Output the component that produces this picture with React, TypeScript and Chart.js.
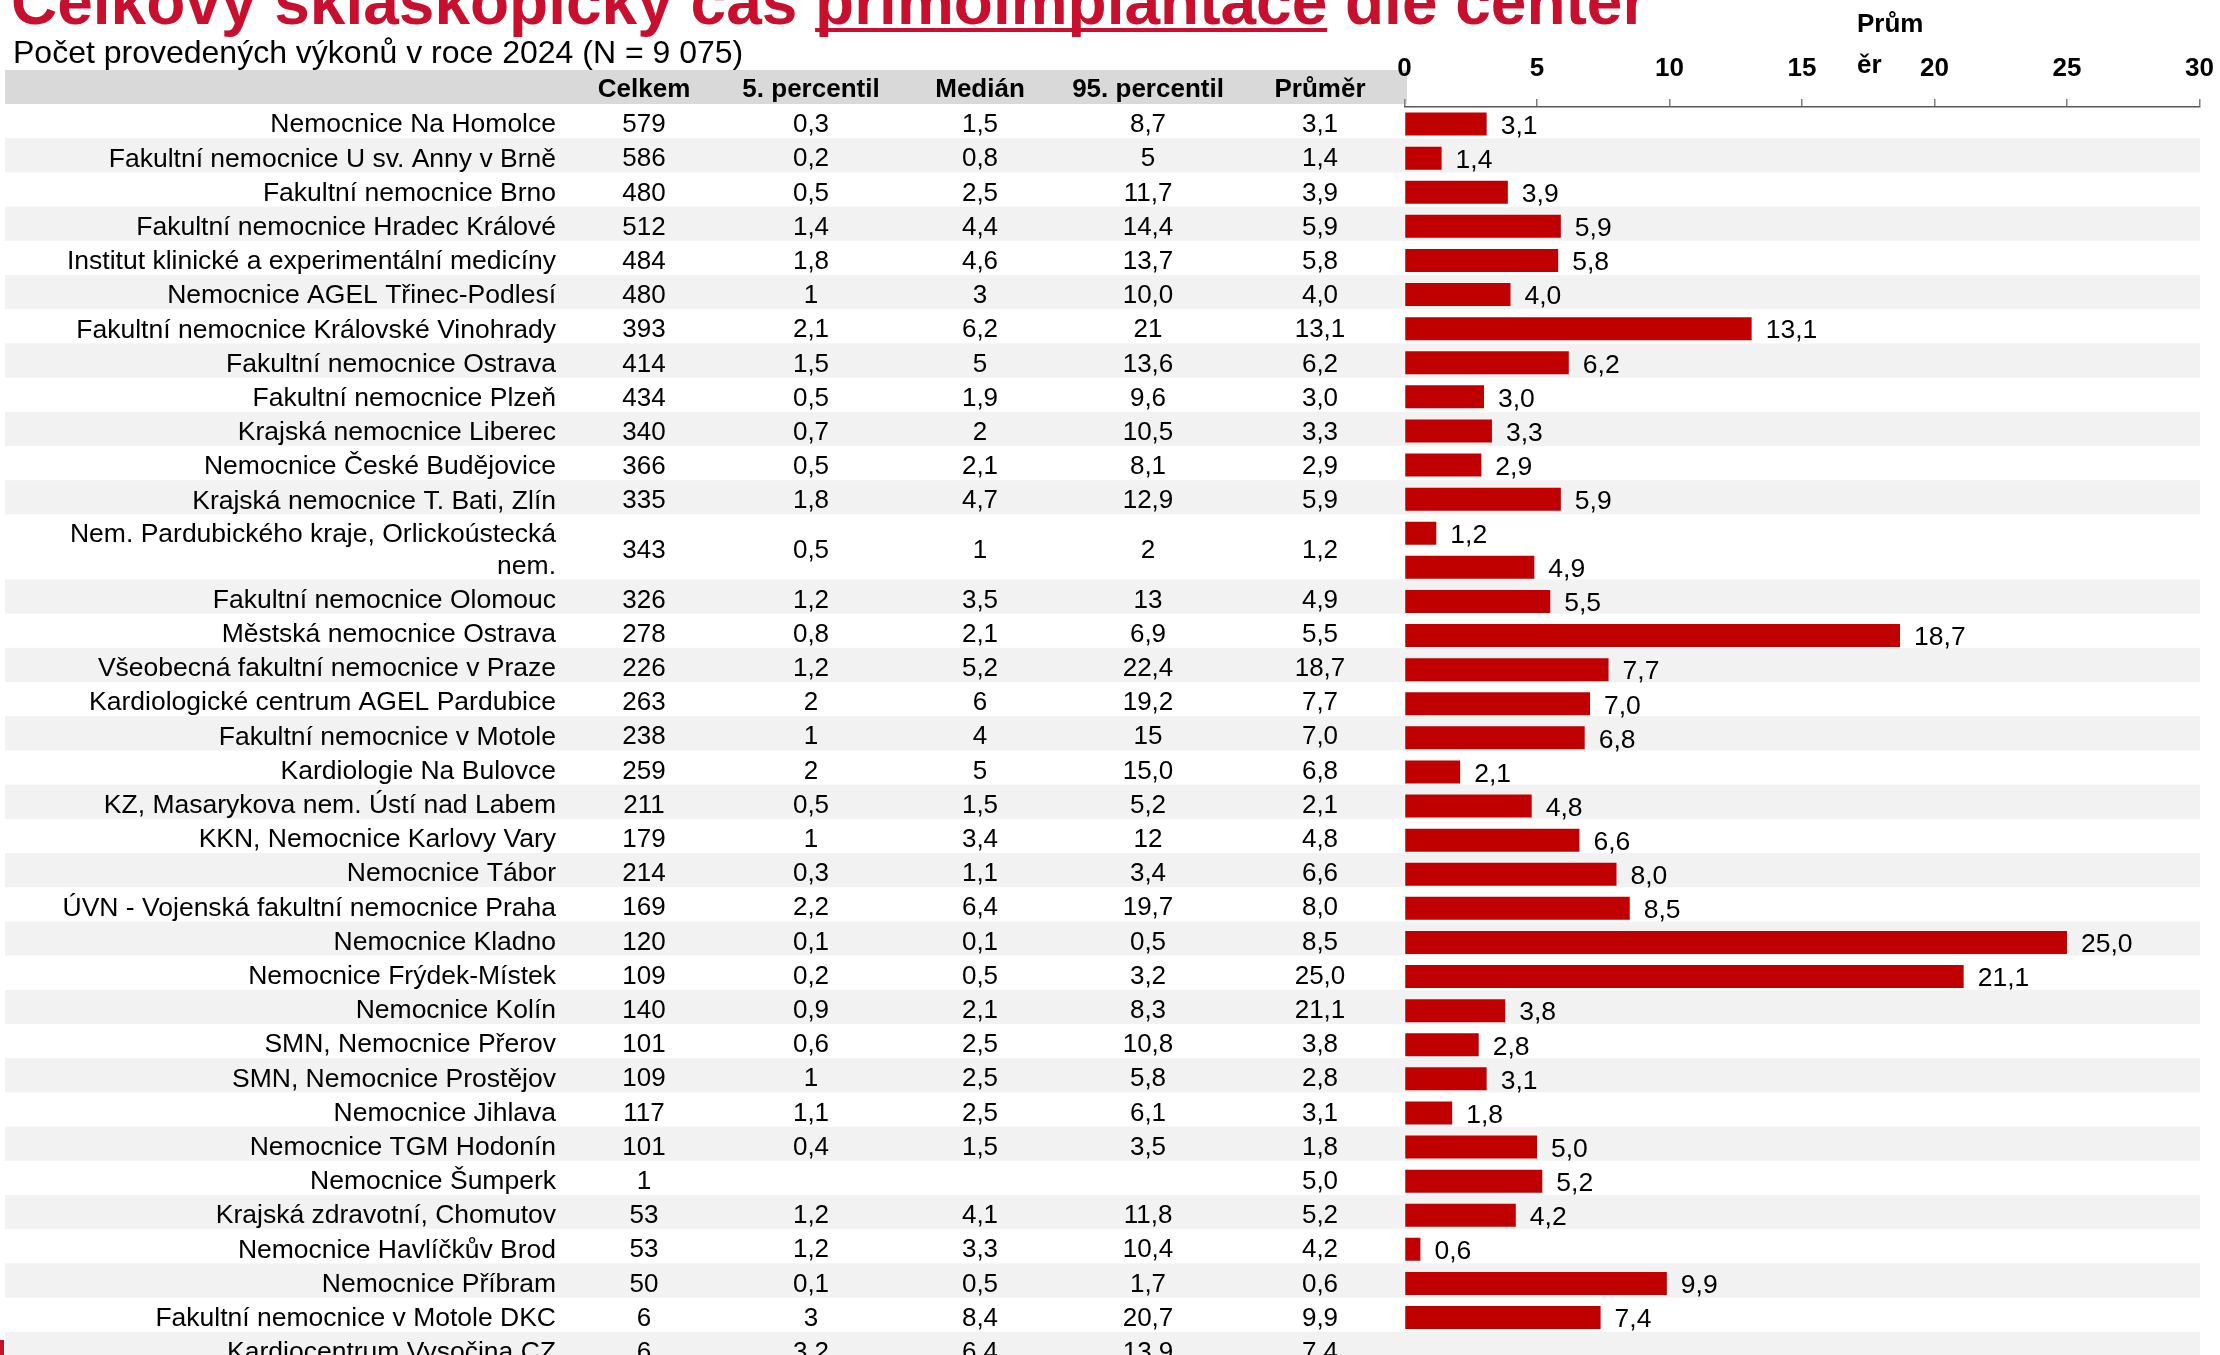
import React, { useEffect, useRef } from 'react';
import { Chart, registerables } from 'chart.js';

Chart.register(...registerables);

// ---------- DATA ----------
const TITLE_PRE = 'Celkový skiaskopický čas ';
const TITLE_UNDER = 'primoimplantace';
const TITLE_POST = ' dle center';
const SUBTITLE = 'Počet provedených výkonů v roce 2024 (N = 9 075)';
const COLUMN_HEADERS = ['Celkem', '5. percentil', 'Medián', '95. percentil', 'Průměr'];
const AXIS_TITLE_LINES = ['Prům', 'ěr'];

const hospitals = [
  'Nemocnice Na Homolce',
  'Fakultní nemocnice U sv. Anny v Brně',
  'Fakultní nemocnice Brno',
  'Fakultní nemocnice Hradec Králové',
  'Institut klinické a experimentální medicíny',
  'Nemocnice AGEL Třinec-Podlesí',
  'Fakultní nemocnice Královské Vinohrady',
  'Fakultní nemocnice Ostrava',
  'Fakultní nemocnice Plzeň',
  'Krajská nemocnice Liberec',
  'Nemocnice České Budějovice',
  'Krajská nemocnice T. Bati, Zlín',
  'Nem. Pardubického kraje, Orlickoústecká\nnem.',
  'Fakultní nemocnice Olomouc',
  'Městská nemocnice Ostrava',
  'Všeobecná fakultní nemocnice v Praze',
  'Kardiologické centrum AGEL Pardubice',
  'Fakultní nemocnice v Motole',
  'Kardiologie Na Bulovce',
  'KZ, Masarykova nem. Ústí nad Labem',
  'KKN, Nemocnice Karlovy Vary',
  'Nemocnice Tábor',
  'ÚVN - Vojenská fakultní nemocnice Praha',
  'Nemocnice Kladno',
  'Nemocnice Frýdek-Místek',
  'Nemocnice Kolín',
  'SMN, Nemocnice Přerov',
  'SMN, Nemocnice Prostějov',
  'Nemocnice Jihlava',
  'Nemocnice TGM Hodonín',
  'Nemocnice Šumperk',
  'Krajská zdravotní, Chomutov',
  'Nemocnice Havlíčkův Brod',
  'Nemocnice Příbram',
  'Fakultní nemocnice v Motole DKC',
  'Kardiocentrum Vysočina CZ',
];

const totals = ['579', '586', '480', '512', '484', '480', '393', '414', '434', '340', '366', '335', '343', '326', '278', '226', '263', '238', '259', '211', '179', '214', '169', '120', '109', '140', '101', '109', '117', '101', '1', '53', '53', '50', '6', '6'];

const percentile5 = ['0,3', '0,2', '0,5', '1,4', '1,8', '1', '2,1', '1,5', '0,5', '0,7', '0,5', '1,8', '0,5', '1,2', '0,8', '1,2', '2', '1', '2', '0,5', '1', '0,3', '2,2', '0,1', '0,2', '0,9', '0,6', '1', '1,1', '0,4', '', '1,2', '1,2', '0,1', '3', '3,2'];

const medians = ['1,5', '0,8', '2,5', '4,4', '4,6', '3', '6,2', '5', '1,9', '2', '2,1', '4,7', '1', '3,5', '2,1', '5,2', '6', '4', '5', '1,5', '3,4', '1,1', '6,4', '0,1', '0,5', '2,1', '2,5', '2,5', '2,5', '1,5', '', '4,1', '3,3', '0,5', '8,4', '6,4'];

const percentile95 = ['8,7', '5', '11,7', '14,4', '13,7', '10,0', '21', '13,6', '9,6', '10,5', '8,1', '12,9', '2', '13', '6,9', '22,4', '19,2', '15', '15,0', '5,2', '12', '3,4', '19,7', '0,5', '3,2', '8,3', '10,8', '5,8', '6,1', '3,5', '', '11,8', '10,4', '1,7', '20,7', '13,9'];

const means = [3.1, 1.4, 3.9, 5.9, 5.8, 4.0, 13.1, 6.2, 3.0, 3.3, 2.9, 5.9, 1.2, 4.9, 5.5, 18.7, 7.7, 7.0, 6.8, 2.1, 4.8, 6.6, 8.0, 8.5, 25.0, 21.1, 3.8, 2.8, 3.1, 1.8, 5.0, 5.2, 4.2, 0.6, 9.9, 7.4];

const X_MIN = 0;
const X_MAX = 30;
const X_STEP = 5;

// ---------- STYLE / LAYOUT ----------
const FONT = "'Liberation Sans', Arial, Helvetica, sans-serif";
const CW = 2220;
const CH = 1355;
const BAR_RED = '#c00000';
const TITLE_RED = '#c8102e';
const STRIPE_GRAY = '#f2f2f2';
const HEADER_GRAY = '#d9d9d9';
const ROW_TOP0 = 104;
const ROW_H = 34.2;
const ROW_H2 = 65;
const NAME_X = 556;
const COL_X = [644, 811, 980, 1148, 1320];
const PLOT_LEFT = 1404.5;
const PLOT_RIGHT = 2199.5;
const PLOT_TOP = 107;
const PLOT_BOTTOM = 1334.6;

const fmt = (v: number) => v.toFixed(1).replace('.', ',');

const tablePlugin = {
  id: 'tablePlugin',
  beforeDraw(chart: any) {
    const ctx: CanvasRenderingContext2D = chart.ctx;
    ctx.save();
    ctx.fillStyle = '#ffffff';
    ctx.fillRect(0, 0, CW, CH);

    // header band
    ctx.fillStyle = HEADER_GRAY;
    ctx.fillRect(5, 70, 1402, 34);

    // row stripes + table text
    const columns = [totals, percentile5, medians, percentile95, means.map(fmt)];
    let top = ROW_TOP0;
    hospitals.forEach((name, i) => {
      const lines = name.split('\n');
      const h = lines.length > 1 ? ROW_H2 : ROW_H;
      if (i % 2 === 1) {
        ctx.fillStyle = STRIPE_GRAY;
        ctx.fillRect(5, top, 2195, h);
      }
      const cy = top + h / 2 + 4;
      ctx.fillStyle = '#000000';
      ctx.textBaseline = 'middle';
      ctx.textAlign = 'right';
      ctx.font = `26.5px ${FONT}`;
      if (lines.length > 1) {
        ctx.fillText(lines[0], NAME_X, cy - 16);
        ctx.fillText(lines[1], NAME_X, cy + 15.5);
      } else {
        ctx.fillText(name, NAME_X, cy);
      }
      ctx.textAlign = 'center';
      ctx.font = `26px ${FONT}`;
      columns.forEach((col, c) => {
        if (col[i]) ctx.fillText(col[i], COL_X[c], cy);
      });
      top += h;
    });

    // header text
    ctx.fillStyle = '#000000';
    ctx.font = `bold 26px ${FONT}`;
    ctx.textAlign = 'center';
    ctx.textBaseline = 'middle';
    COLUMN_HEADERS.forEach((hd, c) => ctx.fillText(hd, COL_X[c], 90));

    // title
    ctx.font = `bold 64px ${FONT}`;
    ctx.textAlign = 'left';
    ctx.textBaseline = 'alphabetic';
    ctx.fillStyle = TITLE_RED;
    const tx = 11;
    const tBase = 24;
    ctx.fillText(TITLE_PRE + TITLE_UNDER + TITLE_POST, tx, tBase);
    const preW = ctx.measureText(TITLE_PRE).width;
    const undW = ctx.measureText(TITLE_UNDER).width;
    ctx.fillRect(tx + preW, 28, undW, 4);

    // subtitle
    ctx.fillStyle = '#000000';
    ctx.font = `32px ${FONT}`;
    ctx.textBaseline = 'middle';
    ctx.fillText(SUBTITLE, 13, 54.5);

    // axis title (wrapped)
    ctx.font = `bold 26px ${FONT}`;
    ctx.fillText(AXIS_TITLE_LINES[0], 1857, 25);
    ctx.fillText(AXIS_TITLE_LINES[1], 1857, 66);

    // small red mark bottom-left
    ctx.fillStyle = TITLE_RED;
    ctx.fillRect(0, 1340, 4, 15);
    ctx.restore();
  },
  afterDatasetsDraw(chart: any) {
    const ctx: CanvasRenderingContext2D = chart.ctx;
    const meta = chart.getDatasetMeta(0);
    ctx.save();
    ctx.fillStyle = '#000000';
    ctx.font = `26.5px ${FONT}`;
    ctx.textAlign = 'left';
    ctx.textBaseline = 'middle';
    meta.data.forEach((bar: any, i: number) => {
      ctx.fillText(fmt(means[i]), bar.x + 14, bar.y + 2.5);
    });
    ctx.restore();
  },
};

export default function App() {
  const canvasRef = useRef<HTMLCanvasElement | null>(null);

  useEffect(() => {
    document.body.style.margin = '0';
    document.body.style.overflow = 'hidden';
    const canvas = canvasRef.current;
    if (!canvas) return;
    const chart = new Chart(canvas, {
      type: 'bar',
      data: {
        labels: hospitals.map((h) => h.replace('\n', ' ')),
        datasets: [
          {
            data: means,
            backgroundColor: BAR_RED,
            borderWidth: 0,
            barPercentage: 0.674,
            categoryPercentage: 1,
          },
        ],
      },
      options: {
        indexAxis: 'y',
        responsive: false,
        animation: false,
        devicePixelRatio: 1,
        layout: {
          padding: {
            left: PLOT_LEFT,
            right: CW - PLOT_RIGHT,
            top: 0,
            bottom: CH - PLOT_BOTTOM,
          },
        },
        plugins: {
          legend: { display: false },
          tooltip: { enabled: false },
        },
        scales: {
          x: {
            position: 'top',
            min: X_MIN,
            max: X_MAX,
            afterFit: (scale: any) => {
              scale.height = PLOT_TOP;
              scale.paddingLeft = 0;
              scale.paddingRight = 0;
            },
            ticks: {
              stepSize: X_STEP,
              color: '#000000',
              font: { family: FONT, size: 26, weight: 'bold' },
              padding: 15,
              maxRotation: 0,
            },
            grid: {
              drawOnChartArea: false,
              drawTicks: true,
              tickLength: 8,
              color: '#7f7f7f',
              lineWidth: 1.5,
            },
            border: { display: true, color: '#595959', width: 1.5 },
          },
          y: {
            display: false,
            grid: { display: false },
          },
        },
      },
      plugins: [tablePlugin],
    } as any);
    return () => chart.destroy();
  }, []);

  return (
    <div style={{ position: 'absolute', left: 0, top: 0, width: CW, height: CH, overflow: 'hidden' }}>
      <canvas ref={canvasRef} width={CW} height={CH} style={{ width: CW, height: CH, display: 'block' }} />
    </div>
  );
}
